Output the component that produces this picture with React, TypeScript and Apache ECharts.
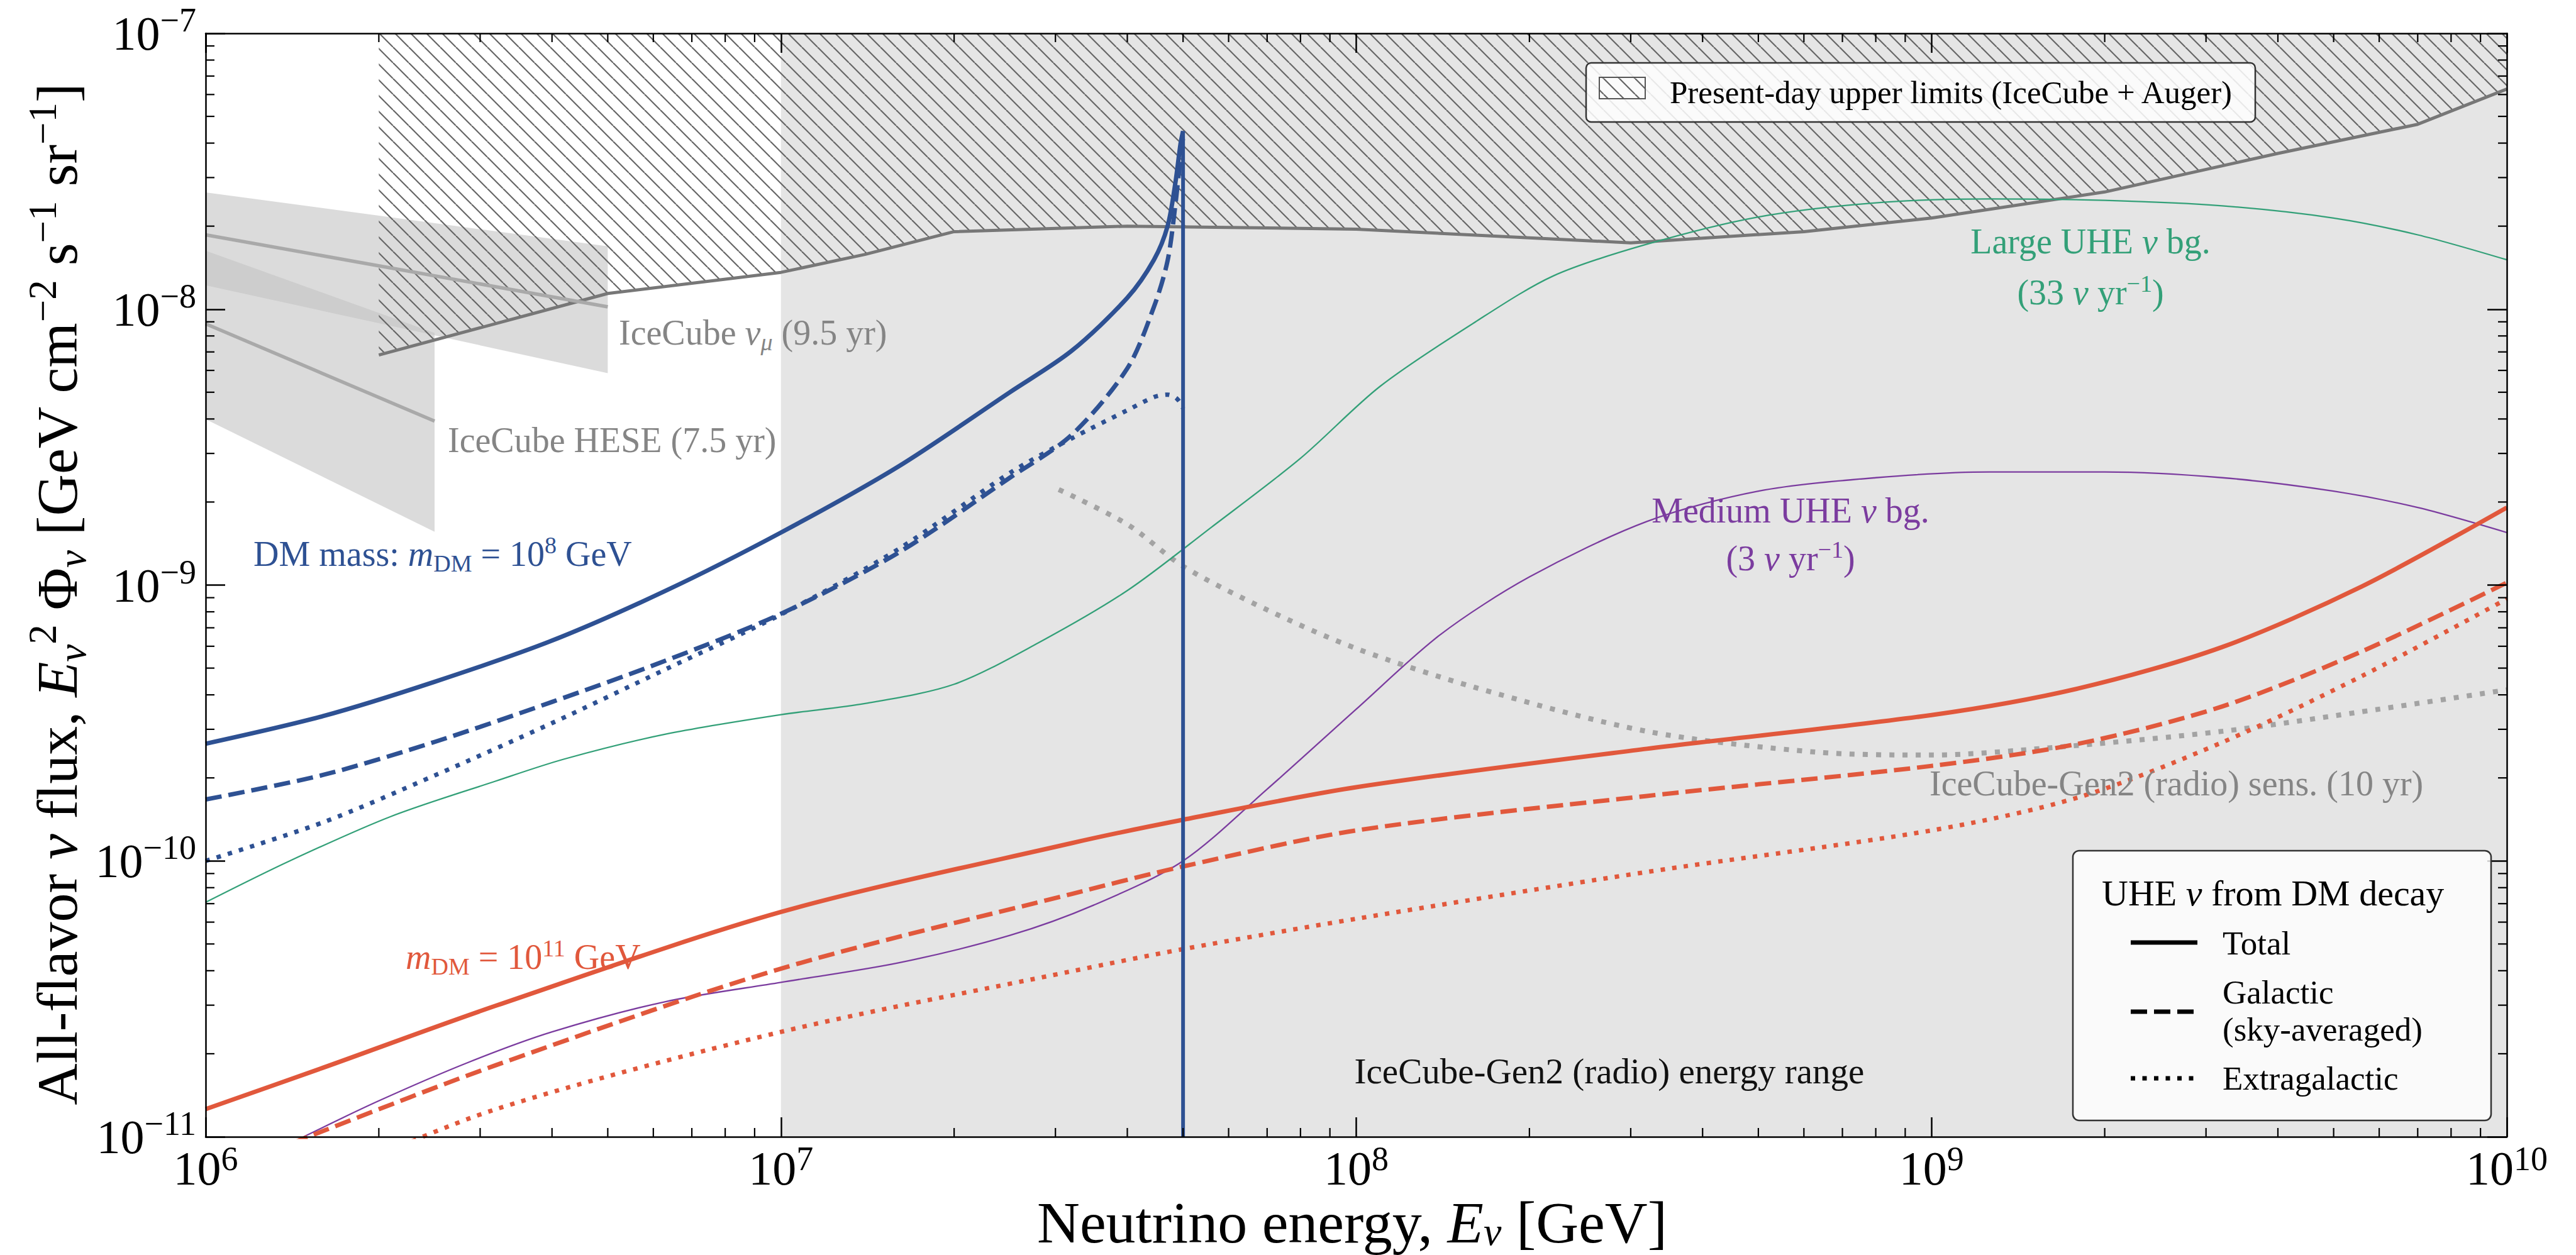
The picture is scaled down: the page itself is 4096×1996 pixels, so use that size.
import React, { useEffect, useRef } from "react";
import * as echarts from "echarts";

// ---------------- axes ----------------
const X_MIN = 1e6;
const X_MAX = 1e10;
const Y_MIN = 1e-11;
const Y_MAX = 1e-7;

// IceCube-Gen2 (radio) energy range
const radioRange = [1e7, 1e10];

// Present-day upper limits (IceCube + Auger)
const limitEnergy = [2e6, 5e6, 1e7, 1.4e7, 2e7, 4e7, 1e8, 3e8, 6e8, 1e9, 2e9, 4e9, 7e9, 1e10];
const limitFlux = [6.82e-9, 1.14e-8, 1.36e-8, 1.58e-8, 1.91e-8, 2.0e-8, 1.95e-8, 1.74e-8, 1.91e-8, 2.14e-8, 2.66e-8, 3.67e-8, 4.68e-8, 6.28e-8];

// IceCube nu_mu (9.5 yr)
const numuEnergy = [1e6, 5e6];
const numuBest = [1.86e-8, 1.02e-8];
const numuUpper = [2.65e-8, 1.69e-8];
const numuLower = [1.22e-8, 5.86e-9];

// IceCube HESE (7.5 yr)
const heseEnergy = [1e6, 2.5e6];
const heseBest = [8.85e-9, 3.93e-9];
const heseUpper = [1.63e-8, 8.2e-9];
const heseLower = [3.99e-9, 1.56e-9];

// DM mass 1e8 GeV
const dm8Energy = [1e6, 1.6e6, 2.5e6, 4e6, 6.3e6, 1e7, 1.6e7, 2.5e7, 3.2e7, 4e7, 4.45e7, 4.7e7, 4.85e7, 4.95e7, 5e7];
const dm8Total = [2.66e-10, 3.35e-10, 4.46e-10, 6.29e-10, 9.53e-10, 1.55e-9, 2.69e-9, 5.0e-9, 7.06e-9, 1.1e-8, 1.51e-8, 2.0e-8, 2.88e-8, 3.98e-8, 4.42e-8];
const dm8Galactic = [1.67e-10, 2.05e-10, 2.7e-10, 3.77e-10, 5.32e-10, 7.87e-10, 1.31e-9, 2.45e-9, 3.5e-9, 6.1e-9, 1.02e-8, 1.5e-8, 2.4e-8, 3.55e-8, 4.17e-8];
const dm8Extragalactic = [1.0e-10, 1.38e-10, 2.04e-10, 3.16e-10, 4.95e-10, 7.82e-10, 1.35e-9, 2.55e-9, 3.4e-9, 4.3e-9, 4.8e-9, 4.9e-9, 4.79e-9, 4.57e-9, 4.37e-9];

// DM mass 1e11 GeV
const dm11Energy = [1e6, 1.6e6, 3.2e6, 1e7, 3.2e7, 5e7, 1e8, 3.2e8, 1e9, 1.8e9, 3.2e9, 5.6e9, 1e10];
const dm11Total = [1.26e-11, 1.78e-11, 2.99e-11, 6.53e-11, 1.16e-10, 1.41e-10, 1.85e-10, 2.55e-10, 3.38e-10, 4.22e-10, 5.96e-10, 9.89e-10, 1.91e-9];
const dm11Galactic = [7.1e-12, 1.05e-11, 1.82e-11, 4.07e-11, 7.59e-11, 9.55e-11, 1.29e-10, 1.72e-10, 2.21e-10, 2.66e-10, 3.63e-10, 5.75e-10, 1.02e-9];
const dm11Extragalactic = [5.0e-12, 7.1e-12, 1.26e-11, 2.4e-11, 3.98e-11, 4.79e-11, 6.17e-11, 9.12e-11, 1.29e-10, 1.7e-10, 2.69e-10, 4.68e-10, 8.91e-10];

// Large UHE nu background (33 nu / yr)
const largeEnergy = [1e6, 1.4e6, 2.1e6, 3.2e6, 4.2e6, 6.3e6, 1e7, 1.4e7, 2e7, 2.8e7, 4e7, 5.6e7, 8e7, 1.1e8, 1.6e8, 2.2e8, 3.2e8, 5e8, 8e8, 1.26e9, 2e9, 3.2e9, 5e9, 7e9, 1e10];
const largeFlux = [7.08e-11, 1.0e-10, 1.45e-10, 1.95e-10, 2.34e-10, 2.88e-10, 3.39e-10, 3.72e-10, 4.37e-10, 6.17e-10, 9.55e-10, 1.62e-9, 2.88e-9, 5.25e-9, 8.91e-9, 1.32e-8, 1.72e-8, 2.16e-8, 2.43e-8, 2.51e-8, 2.48e-8, 2.37e-8, 2.14e-8, 1.86e-8, 1.51e-8];

// Medium UHE nu background (3 nu / yr)
const mediumEnergy = [1.48e6, 2e6, 2.86e6, 4e6, 6.3e6, 1e7, 1.6e7, 2.5e7, 3.5e7, 5e7, 7e7, 1e8, 1.4e8, 2e8, 3.2e8, 5e8, 8e8, 1.26e9, 2e9, 3.2e9, 5e9, 7e9, 1e10];
const mediumFlux = [1.0e-11, 1.35e-11, 1.86e-11, 2.4e-11, 3.09e-11, 3.63e-11, 4.27e-11, 5.37e-11, 6.92e-11, 1.0e-10, 1.82e-10, 3.55e-10, 6.61e-10, 1.07e-9, 1.7e-9, 2.19e-9, 2.45e-9, 2.57e-9, 2.57e-9, 2.45e-9, 2.19e-9, 1.91e-9, 1.55e-9];

// IceCube-Gen2 (radio) sensitivity (10 yr)
const sensEnergy = [3.04e7, 4e7, 5e7, 7e7, 1e8, 1.6e8, 3.2e8, 6.3e8, 1e9, 1.6e9, 3.2e9, 6e9, 1e10];
const sensFlux = [2.22e-9, 1.66e-9, 1.17e-9, 8.13e-10, 5.89e-10, 4.27e-10, 2.95e-10, 2.48e-10, 2.42e-10, 2.57e-10, 2.95e-10, 3.55e-10, 4.17e-10];

// ---------------- styling ----------------
const FONT = '"Liberation Serif", "Times New Roman", Times, serif';
const BLUE = "#2e5193";
const RED = "#e1583c";
const GREEN = "#33a078";
const PURPLE = "#7b3c9f";
const GRAY_TXT = "#858585";

const zip = (xs: number[], ys: number[]) => xs.map((x, i) => [x, ys[i]]);

function makeHatch(size: number, color: string, lw: number) {
  const c = document.createElement("canvas");
  c.width = size;
  c.height = size;
  const ctx = c.getContext("2d")!;
  ctx.strokeStyle = color;
  ctx.lineWidth = lw;
  for (const k of [-size, 0, size]) {
    ctx.beginPath();
    ctx.moveTo(k, 0);
    ctx.lineTo(k + size, size);
    ctx.stroke();
  }
  return c.toDataURL();
}

function rich(S: number, color: string, lh = 1.2) {
  const L = Math.round(S * lh);
  const s = Math.round(S * 0.68);
  return {
    n: { fontFamily: FONT, fontSize: S, fill: color, lineHeight: L },
    i: { fontFamily: FONT, fontSize: S, fontStyle: "italic", fill: color, lineHeight: L },
    sub: { fontFamily: FONT, fontSize: s, fill: color, verticalAlign: "bottom" },
    isub: { fontFamily: FONT, fontSize: s, fontStyle: "italic", fill: color, verticalAlign: "bottom" },
    sup: { fontFamily: FONT, fontSize: s, fill: color, verticalAlign: "top" },
  };
}

function txt(x: number, y: number, text: string, S: number, color: string, align = "left", extra: any = {}, lh = 1.2) {
  return {
    type: "text",
    x,
    y,
    z: 100,
    silent: true,
    ...extra,
    style: {
      text,
      rich: rich(S, color, lh),
      fill: color,
      fontFamily: FONT,
      fontSize: S,
      align,
      verticalAlign: "middle",
    },
  };
}

function line(E: number[], F: number[], color: string, width: number, dash: any, extra: any = {}) {
  return {
    type: "line",
    data: zip(E, F),
    symbol: "none",
    silent: true,
    clip: true,
    smooth: 0.3,
    lineStyle: { color, width, type: dash, cap: "butt", join: "round" },
    z: 3,
    ...extra,
  };
}

const tickRichX = {
  b: { fontFamily: FONT, fontSize: 76, color: "#000", lineHeight: 84 },
  s: { fontFamily: FONT, fontSize: 54, color: "#000", verticalAlign: "top" },
};
const tickRichY = {
  b: { fontFamily: FONT, fontSize: 76, color: "#000", lineHeight: 96 },
  s: { fontFamily: FONT, fontSize: 54, color: "#000", verticalAlign: "top" },
};
const tickFmt = (v: number) => {
  const e = Math.round(Math.log10(v));
  return `{b|10}{s|${e < 0 ? "\u2212" + -e : e}}`;
};

function axisCommon(min: number, max: number) {
  return {
    type: "log",
    logBase: 10,
    min,
    max,
    z: 6,
    axisLine: { show: true, onZero: false, lineStyle: { color: "#000", width: 2.5 } },
    axisTick: { show: true, inside: true, length: 31, lineStyle: { color: "#000", width: 2.5 } },
    splitLine: { show: false },
    minorTick: { show: false },
    minorSplitLine: { show: false },
  };
}

function buildOption() {
  const HS = 25;
  const hatchFill: any = { image: makeHatch(HS, "#666666", 2.2), repeat: "repeat", imageWidth: HS, imageHeight: HS };

  const xMinor: number[] = [];
  for (let d = 6; d < 10; d++) for (let m = 2; m <= 9; m++) xMinor.push(m * Math.pow(10, d));
  const yMinor: number[] = [];
  for (let d = -11; d < -7; d++) for (let m = 2; m <= 9; m++) yMinor.push(m * Math.pow(10, d));

  const dash = [26, 11];
  const dot = [7, 11.5];
  const LW = 7;

  const series: any[] = [
    // energy range shading
    {
      type: "custom",
      silent: true,
      z: 1,
      data: [[radioRange[0], Y_MIN]],
      renderItem: (_p: any, api: any) => {
        const a = api.coord([radioRange[0], Y_MAX]);
        const b = api.coord([radioRange[1], Y_MIN]);
        return { type: "rect", shape: { x: a[0], y: a[1], width: b[0] - a[0], height: b[1] - a[1] }, style: { fill: "#e5e5e5" } };
      },
    },
    // IceCube bands
    {
      type: "custom",
      silent: true,
      z: 1,
      clip: true,
      data: [[X_MIN, Y_MIN]],
      renderItem: (_p: any, api: any) => {
        const poly = (E: number[], up: number[], lo: number[]) => {
          const pts: number[][] = [];
          E.forEach((e, i) => pts.push(api.coord([e, up[i]])));
          for (let i = E.length - 1; i >= 0; i--) pts.push(api.coord([E[i], lo[i]]));
          return { type: "polygon", shape: { points: pts }, style: { fill: "rgba(195,195,195,0.6)" } };
        };
        return { type: "group", children: [poly(numuEnergy, numuUpper, numuLower), poly(heseEnergy, heseUpper, heseLower)] };
      },
    },
    // upper limits (hatched)
    {
      type: "line",
      data: zip(limitEnergy, limitFlux),
      symbol: "none",
      silent: true,
      smooth: false,
      lineStyle: { color: "#777777", width: 5 },
      areaStyle: { origin: "end", color: hatchFill, opacity: 1 },
      z: 2,
    },
    line(numuEnergy, numuBest, "#a9a9a9", 5.5, "solid", { smooth: false }),
    line(heseEnergy, heseBest, "#a9a9a9", 5.5, "solid", { smooth: false }),
    line(sensEnergy, sensFlux, "#a3a3a3", 8, [8, 13]),
    line(largeEnergy, largeFlux, GREEN, 2.3, "solid"),
    line(mediumEnergy, mediumFlux, PURPLE, 2.3, "solid"),
    line(dm11Energy, dm11Total, RED, LW, "solid"),
    line(dm11Energy, dm11Galactic, RED, LW, dash),
    line(dm11Energy, dm11Extragalactic, RED, LW, dot),
    line(dm8Energy, dm8Total, BLUE, LW, "solid"),
    line(dm8Energy, dm8Galactic, BLUE, LW, dash),
    line(dm8Energy, dm8Extragalactic, BLUE, LW, dot),
    line(
      [dm8Energy[dm8Energy.length - 1], dm8Energy[dm8Energy.length - 1]],
      [dm8Total[dm8Total.length - 1], Y_MIN],
      BLUE,
      6,
      "solid",
      { smooth: false }
    ),
    // minor ticks x
    {
      type: "custom",
      silent: true,
      clip: false,
      z: 7,
      data: xMinor.map((v) => [v, Y_MIN]),
      renderItem: (p: any, api: any) => {
        const v = xMinor[p.dataIndex];
        const a = api.coord([v, Y_MIN]);
        const b = api.coord([v, Y_MAX]);
        const st = { stroke: "#000", lineWidth: 2.2 };
        return {
          type: "group",
          children: [
            { type: "line", shape: { x1: a[0], y1: a[1], x2: a[0], y2: a[1] - 14 }, style: st },
            { type: "line", shape: { x1: b[0], y1: b[1], x2: b[0], y2: b[1] + 14 }, style: st },
          ],
        };
      },
    },
    // minor ticks y
    {
      type: "custom",
      silent: true,
      clip: false,
      z: 7,
      data: yMinor.map((v) => [X_MIN, v]),
      renderItem: (p: any, api: any) => {
        const v = yMinor[p.dataIndex];
        const a = api.coord([X_MIN, v]);
        const b = api.coord([X_MAX, v]);
        const st = { stroke: "#000", lineWidth: 2.2 };
        return {
          type: "group",
          children: [
            { type: "line", shape: { x1: a[0], y1: a[1], x2: a[0] + 14, y2: a[1] }, style: st },
            { type: "line", shape: { x1: b[0], y1: b[1], x2: b[0] - 14, y2: b[1] }, style: st },
          ],
        };
      },
    },
  ];

  const graphic: any[] = [
    // annotations
    txt(984, 529, "{n|IceCube }{i|\u03bd}{isub|\u03bc}{n| (9.5 yr)}", 56, GRAY_TXT),
    txt(712, 700, "{n|IceCube HESE (7.5 yr)}", 56, GRAY_TXT),
    txt(403, 881, "{n|DM mass: }{i|m}{sub|DM}{n| = 10}{sup|8}{n| GeV}", 56, BLUE),
    txt(645, 1522, "{i|m}{sub|DM}{n| = 10}{sup|11}{n| GeV}", 56, RED),
    txt(3324, 384, "{n|Large UHE }{i|\u03bd}{n| bg.}", 56, GREEN, "center"),
    txt(3324, 465, "{n|(33 }{i|\u03bd}{n| yr}{sup|\u22121}{n|)}", 56, GREEN, "center"),
    txt(2847, 812, "{n|Medium UHE }{i|\u03bd}{n| bg.}", 56, PURPLE, "center"),
    txt(2847, 888, "{n|(3 }{i|\u03bd}{n| yr}{sup|\u22121}{n|)}", 56, PURPLE, "center"),
    txt(3068, 1246, "{n|IceCube-Gen2 (radio) sens. (10 yr)}", 56, GRAY_TXT),
    txt(2559, 1703, "{n|IceCube-Gen2 (radio) energy range}", 57, "#111", "center"),
    // axis titles
    txt(2150, 1944, "{n|Neutrino energy, }{i|E}{isub|\u03bd}{n| [GeV]}", 94, "#000", "center", {}, 0.98),
    txt(
      91,
      945,
      "{n|All-flavor }{i|\u03bd}{n| flux, }{i|E}{isub|\u03bd}{sup|2}{n| \u03a6}{isub|\u03bd}{n| [GeV cm}{sup|\u22122}{n| s}{sup|\u22121}{n| sr}{sup|\u22121}{n|]}",
      92,
      "#000",
      "center",
      { rotation: Math.PI / 2 }
    ),
    // top legend
    {
      type: "rect",
      z: 100,
      silent: true,
      shape: { x: 2522, y: 100, width: 1064, height: 94, r: 8 },
      style: { fill: "rgba(255,255,255,0.85)", stroke: "#333", lineWidth: 2.5 },
    },
    {
      type: "rect",
      z: 101,
      silent: true,
      shape: { x: 2543, y: 123, width: 73, height: 34 },
      style: { fill: hatchFill, stroke: "#555", lineWidth: 2 },
    },
    txt(2655, 147, "{n|Present-day upper limits (IceCube + Auger)}", 51, "#000"),
    // lower-right legend
    {
      type: "rect",
      z: 100,
      silent: true,
      shape: { x: 3296, y: 1353, width: 665, height: 429, r: 10 },
      style: { fill: "rgba(255,255,255,0.8)", stroke: "#333", lineWidth: 2.5 },
    },
    txt(3342, 1420, "{n|UHE }{i|\u03bd}{n| from DM decay}", 58, "#000"),
    { type: "line", z: 101, silent: true, shape: { x1: 3388, y1: 1499, x2: 3494, y2: 1499 }, style: { stroke: "#000", lineWidth: LW } },
    { type: "line", z: 101, silent: true, shape: { x1: 3388, y1: 1609, x2: 3494, y2: 1609 }, style: { stroke: "#000", lineWidth: LW, lineDash: dash } },
    { type: "line", z: 101, silent: true, shape: { x1: 3388, y1: 1715, x2: 3494, y2: 1715 }, style: { stroke: "#000", lineWidth: LW, lineDash: dot } },
    txt(3534, 1500, "{n|Total}", 53, "#000"),
    txt(3534, 1578, "{n|Galactic}", 53, "#000"),
    txt(3534, 1637, "{n|(sky-averaged)}", 53, "#000"),
    txt(3534, 1715, "{n|Extragalactic}", 53, "#000"),
  ];

  return {
    animation: false,
    backgroundColor: "#ffffff",
    grid: { left: 327, top: 53, width: 3659, height: 1755, containLabel: false },
    xAxis: [
      {
        ...axisCommon(X_MIN, X_MAX),
        position: "bottom",
        axisLabel: { show: true, margin: 8, formatter: tickFmt, rich: tickRichX, showMinLabel: true, showMaxLabel: true },
      },
      { ...axisCommon(X_MIN, X_MAX), position: "top", axisLabel: { show: false } },
    ],
    yAxis: [
      {
        ...axisCommon(Y_MIN, Y_MAX),
        position: "left",
        axisLabel: { show: true, margin: 15, formatter: tickFmt, rich: tickRichY, showMinLabel: true, showMaxLabel: true },
      },
      { ...axisCommon(Y_MIN, Y_MAX), position: "right", axisLabel: { show: false } },
    ],
    series,
    graphic,
  };
}

export default function App() {
  const ref = useRef<HTMLDivElement>(null);
  useEffect(() => {
    document.body.style.margin = "0";
    const chart = echarts.init(ref.current!, null, { renderer: "svg" });
    chart.setOption(buildOption() as any);
    return () => chart.dispose();
  }, []);
  return <div ref={ref} style={{ width: 4096, height: 1996, background: "#fff" }} />;
}
